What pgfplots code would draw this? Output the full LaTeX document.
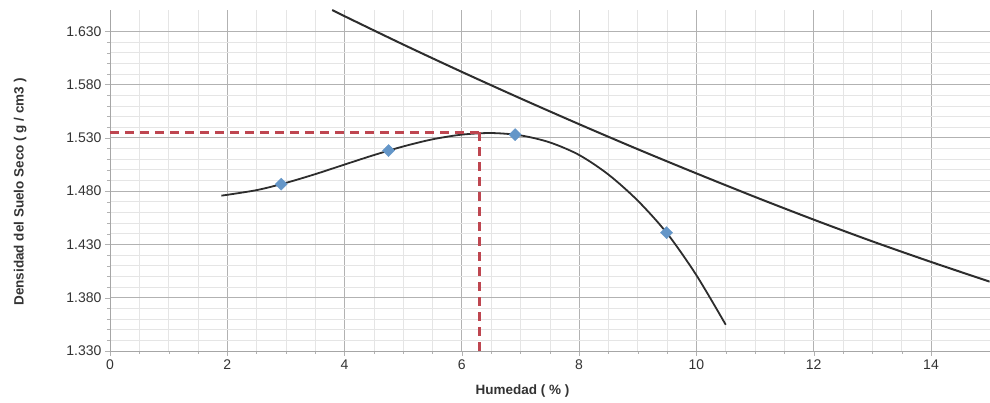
\documentclass[border=0pt]{standalone}
\usepackage{fontspec}
\setmainfont{Liberation Sans}
\usepackage{pgfplots}
\pgfplotsset{compat=1.18}
\definecolor{mk}{RGB}{100,150,200}
\definecolor{dashred}{RGB}{190,70,80}
\definecolor{crv}{RGB}{45,45,45}
\begin{document}
\begin{tikzpicture}
\begin{axis}[
  scale only axis, width=880bp, height=341bp,
  xmin=0, xmax=15, ymin=1.33, ymax=1.65,
  axis x line*=bottom, axis y line*=left,
  axis line style={draw=gray!70, -},
  xtick={0,2,...,14},
  ytick={1.33,1.38,1.43,1.48,1.53,1.58,1.63},
  minor x tick num=3, minor y tick num=4,
  grid=both,
  major grid style={draw=gray!60, line width=0.7bp},
  minor grid style={draw=gray!20, line width=0.6bp},
  tick align=outside, major tick length=5bp, minor tick length=3bp,
  tick style={draw=gray!60},
  /pgf/number format/assume math mode=true,
  yticklabel style={/pgf/number format/.cd, fixed, fixed zerofill, precision=3, use period},
  ticklabel style={font=\fontsize{14bp}{16bp}\selectfont, text=black!80},
  xlabel={Humedad ( \% )},
  ylabel={Densidad del Suelo Seco ( g / cm3 )},
  label style={font=\bfseries\fontsize{13.5bp}{16bp}\selectfont, text=black!80},
  xlabel style={at={(axis description cs:0.469,-0.117)}, anchor=center},
  ylabel style={at={(axis description cs:-0.102,0.466)}, anchor=center},
  clip=true,
]
% zero air voids line
\addplot[crv, line width=2bp, smooth] coordinates {
  (3.79,1.6500) (4,1.6442) (5,1.6176) (6,1.5919) (7,1.5670) (8,1.5428) (9,1.5193)
  (10,1.4966) (11,1.4745) (12,1.4532) (13,1.4328) (14,1.4135) (15,1.3950)
};
% compaction curve
\addplot[crv, line width=1.8bp, smooth] coordinates {
  (1.9,1.4757) (2.5,1.4809) (3.0,1.4877) (3.5,1.4959) (4.0,1.5049) (4.5,1.5138)
  (5.0,1.5219) (5.5,1.5286) (6.0,1.5330) (6.5,1.5345) (7.0,1.5323) (7.5,1.5257)
  (8.0,1.5139) (8.5,1.4955) (9.0,1.4710) (9.5,1.4403) (10.0,1.4010) (10.5,1.3545)
};
% optimum dashed lines
\addplot[dashred, line width=2.4bp, dash pattern=on 9bp off 6bp] coordinates {(0,1.535) (6.3,1.535)};
\addplot[dashred, line width=2.4bp, dash pattern=on 9bp off 6bp] coordinates {(6.3,1.535) (6.3,1.330)};
% data points
\addplot[only marks, mark=square*, mark size=4.3bp, mark options={fill=mk, draw=mk, rotate=45}] coordinates {
  (2.92,1.4865) (4.75,1.5180) (6.91,1.5330) (9.49,1.4410)
};
\end{axis}
\useasboundingbox ([xshift=-110bp,yshift=-52bp]current axis.south west) rectangle ([yshift=10bp]current axis.north east);
\end{tikzpicture}
\end{document}
